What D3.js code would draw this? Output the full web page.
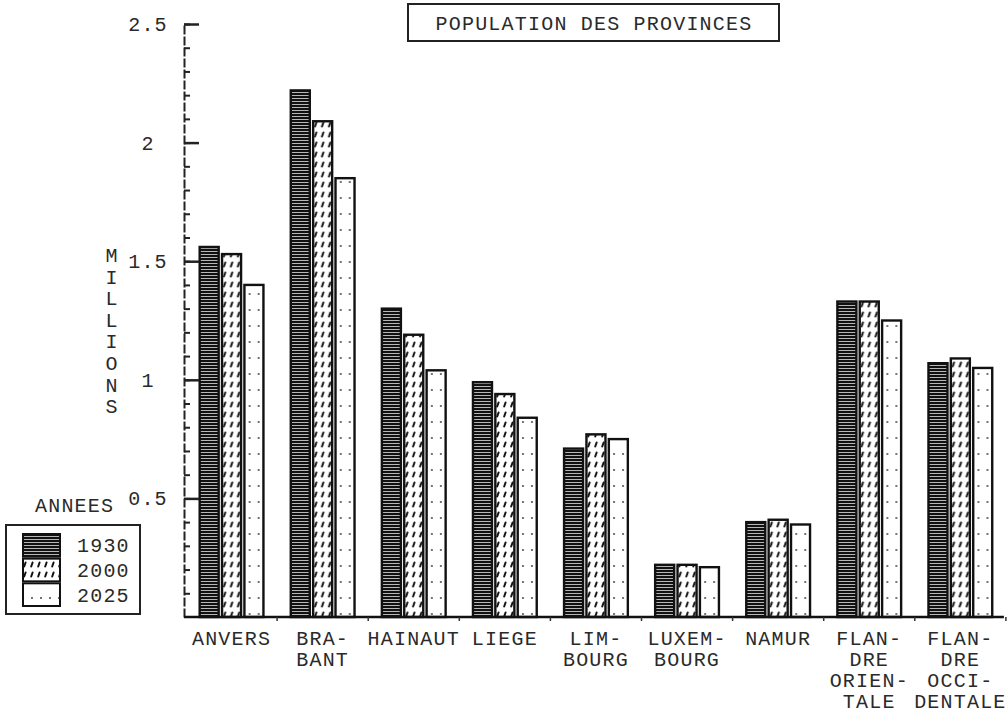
<!DOCTYPE html>
<html>
<head>
<meta charset="utf-8">
<script src="https://cdn.jsdelivr.net/npm/d3@7"></script>
<style>
  body { margin: 0; background: #fff; }
  svg text { font-family: "Liberation Mono", "DejaVu Sans Mono", monospace; font-size: 20px; letter-spacing: 1.2px; fill: #2a2a2a; }
</style>
</head>
<body>
<div id="chart"></div>
<script>
// Data (population in millions)
const provinces = ["ANVERS", "BRABANT", "HAINAUT", "LIEGE", "LIMBOURG", "LUXEMBOURG", "NAMUR", "FLANDRE ORIENTALE", "FLANDRE OCCIDENTALE"];
const provinceLabels = [
    ["ANVERS"], ["BRA-", "BANT"], ["HAINAUT"], ["LIEGE"], ["LIM-", "BOURG"],
    ["LUXEM-", "BOURG"], ["NAMUR"], ["FLAN-", "DRE", "ORIEN-", "TALE"], ["FLAN-", "DRE", "OCCI-", "DENTALE"]
];
const years = ["1930", "2000", "2025"];
const pop1930 = [1.56, 2.22, 1.30, 0.99, 0.71, 0.22, 0.40, 1.33, 1.07];
const pop2000 = [1.53, 2.09, 1.19, 0.94, 0.77, 0.22, 0.41, 1.33, 1.09];
const pop2025 = [1.40, 1.85, 1.04, 0.84, 0.75, 0.21, 0.39, 1.25, 1.05];
const majorTicks = [0.5, 1, 1.5, 2, 2.5];
const minorTicks = d3.range(1, 26).map(d => d / 10);
const title = "POPULATION DES PROVINCES";
const yLabel = "MILLIONS";
const legendTitle = "ANNEES";

const series = [pop1930, pop2000, pop2025];
const rows = provinces.map((p, i) => ({
    province: p,
    values: years.map((y, k) => ({ year: y, value: series[k][i] }))
}));

const width = 1007, height = 721;
const svg = d3.select("#chart").append("svg")
    .attr("width", width)
    .attr("height", height);

svg.append("rect").attr("width", width).attr("height", height).attr("fill", "#fff");

// Fill patterns
const defs = svg.append("defs");
const p1930 = defs.append("pattern").attr("id", "p1930")
    .attr("patternUnits", "userSpaceOnUse").attr("width", 6).attr("height", 3);
p1930.append("rect").attr("width", 6).attr("height", 3).attr("fill", "#fff");
p1930.append("rect").attr("width", 6).attr("height", 2.3).attr("fill", "#111");

const p2000 = defs.append("pattern").attr("id", "p2000")
    .attr("patternUnits", "userSpaceOnUse").attr("width", 7).attr("height", 10);
p2000.append("rect").attr("width", 7).attr("height", 10).attr("fill", "#fff");
p2000.append("path").attr("d", "M4.6,2.5 L3.2,6.5")
    .attr("stroke", "#111").attr("stroke-width", 2).attr("stroke-linecap", "round");

const p2025 = defs.append("pattern").attr("id", "p2025")
    .attr("patternUnits", "userSpaceOnUse").attr("width", 9).attr("height", 16);
p2025.append("rect").attr("width", 9).attr("height", 16).attr("fill", "#fff");
p2025.append("circle").attr("cx", 5).attr("cy", 6).attr("r", 0.9).attr("fill", "#333");

const fills = { "1930": "url(#p1930)", "2000": "url(#p2000)", "2025": "url(#p2025)" };

// Scales
const axisX = 184;
const x0 = d3.scaleBand()
    .domain(provinces)
    .range([186, 186 + 9 * 91.1])
    .paddingInner(0.3)
    .paddingOuter(0.15);

const x1 = d3.scaleBand()
    .domain(years)
    .range([0, x0.bandwidth()])
    .paddingInner(0.15);

const yScale = d3.scaleLinear()
    .domain([0, 2.5])
    .range([617, 24]);

// Title box
svg.append("rect")
    .attr("x", 408).attr("y", 4).attr("width", 371).attr("height", 37)
    .attr("fill", "none").attr("stroke", "#222").attr("stroke-width", 2);
svg.append("text")
    .attr("x", 594).attr("y", 30)
    .attr("text-anchor", "middle")
    .text(title);

// Bars
const groups = svg.selectAll(".group")
    .data(rows)
    .enter()
    .append("g")
    .attr("class", "group")
    .attr("transform", d => `translate(${x0(d.province)},0)`);

groups.selectAll("rect")
    .data(d => d.values)
    .enter()
    .append("rect")
    .attr("x", d => x1(d.year))
    .attr("y", d => yScale(d.value))
    .attr("width", x1.bandwidth())
    .attr("height", d => yScale(0) - yScale(d.value))
    .attr("fill", d => fills[d.year])
    .attr("stroke", "#111")
    .attr("stroke-width", 2.4);

// Y axis: minor ticks
const minorAxis = svg.append("g")
    .attr("transform", `translate(${axisX},0)`)
    .call(d3.axisLeft(yScale).tickValues(minorTicks).tickSize(-6).tickFormat(""));
minorAxis.select(".domain").remove();
minorAxis.selectAll("line").attr("stroke", "#222").attr("stroke-width", 2);

// Y axis: major ticks with labels
const majorAxis = svg.append("g")
    .attr("transform", `translate(${axisX},0)`)
    .call(d3.axisLeft(yScale).tickValues(majorTicks).tickSize(-15).tickSizeOuter(0).tickFormat(d3.format("")));
majorAxis.select(".domain").attr("stroke", "#222").attr("stroke-width", 2).attr("stroke-dasharray", "9,2");
majorAxis.selectAll("line").attr("stroke", "#222").attr("stroke-width", 2.5);
majorAxis.selectAll("text")
    .attr("x", -36)
    .attr("text-anchor", "middle")
    .attr("font-size", null)
    .attr("font-family", null)
    .style("fill", "#2a2a2a");

// Baseline
svg.append("line")
    .attr("x1", axisX).attr("x2", x0.range()[1] - 2)
    .attr("y1", yScale(0)).attr("y2", yScale(0))
    .attr("stroke", "#111").attr("stroke-width", 2.6);

// Small marks between groups under the baseline
svg.selectAll(".sep")
    .data(provinces)
    .enter()
    .append("line")
    .attr("x1", d => x0(d) + x0.bandwidth() + x0.step() * 0.15)
    .attr("x2", d => x0(d) + x0.bandwidth() + x0.step() * 0.15)
    .attr("y1", yScale(0))
    .attr("y2", yScale(0) + 4)
    .attr("stroke", "#333").attr("stroke-width", 1.5);

// Province labels, one text per line
svg.selectAll(".plabel")
    .data(provinces.flatMap((p, i) => provinceLabels[i].map((t, j) => ({ p, t, j }))))
    .enter()
    .append("text")
    .attr("class", "plabel")
    .attr("text-anchor", "middle")
    .attr("x", d => x0(d.p) + x0.bandwidth() / 2)
    .attr("y", d => 645 + d.j * 21)
    .text(d => d.t);

// Y axis title, letters stacked vertically
svg.append("g").selectAll("text")
    .data(yLabel.split(""))
    .enter()
    .append("text")
    .attr("x", 112)
    .attr("y", (d, i) => 262 + i * 21.6)
    .attr("text-anchor", "middle")
    .text(d => d);

// Legend
svg.append("text")
    .attr("x", 35).attr("y", 512)
    .text(legendTitle);
svg.append("rect")
    .attr("x", 6).attr("y", 525).attr("width", 134).attr("height", 89)
    .attr("fill", "none").attr("stroke", "#222").attr("stroke-width", 2);

const legendY = d3.scaleBand().domain(years).range([534, 606]).paddingInner(0.08);
const legend = svg.selectAll(".legend")
    .data(years)
    .enter()
    .append("g")
    .attr("class", "legend");
legend.append("rect")
    .attr("x", 23)
    .attr("y", d => legendY(d))
    .attr("width", 37)
    .attr("height", legendY.bandwidth())
    .attr("fill", d => fills[d])
    .attr("stroke", "#111")
    .attr("stroke-width", 2);
legend.append("text")
    .attr("x", 77)
    .attr("y", d => legendY(d) + legendY.bandwidth() / 2 + 7)
    .text(d => d);
</script>
</body>
</html>
